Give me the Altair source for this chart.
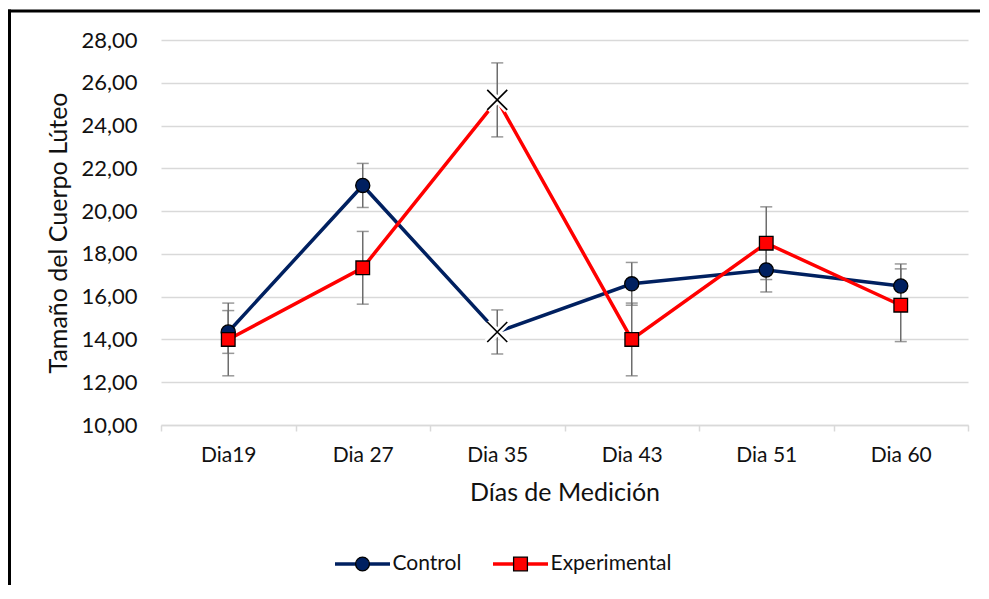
import altair as alt
import pandas as pd

dias = ["Dia19", "Dia 27", "Dia 35", "Dia 43", "Dia 51", "Dia 60"]
series = ["Control", "Experimental"]
control = [14.35, 21.2, 14.35, 16.6, 17.25, 16.5]
control_err = [1.0, 1.03, 1.03, 1.0, 1.03, 1.03]
experimental = [14.0, 17.35, 25.2, 14.0, 18.5, 15.6]
experimental_err = [1.7, 1.7, 1.73, 1.7, 1.7, 1.7]
colors = ["#002060", "#FF0000"]
y_ticks = [10, 12, 14, 16, 18, 20, 22, 24, 26, 28]

rows = []
for s, vals, errs in [("Control", control, control_err), ("Experimental", experimental, experimental_err)]:
    for d, v, e in zip(dias, vals, errs):
        rows.append({"Dia": d, "Serie": s, "Valor": v, "lo": v - e, "hi": v + e})
df = pd.DataFrame(rows)
legend_df = pd.DataFrame({"Serie": series})

FONT = "Lato"
TXT = "#111111"

X = alt.X("Dia:N", sort=dias, scale=alt.Scale(paddingInner=0, paddingOuter=0),
          axis=alt.Axis(title="Días de Medición", labelAngle=0, tickBand="extent",
                        domainColor="#d9d9d9", domainWidth=1.5, tickColor="#d9d9d9",
                        tickWidth=1.5, tickSize=6, labelPadding=13, titlePadding=15,
                        labelFontSize=21, grid=False))
Y = alt.Y("Valor:Q", scale=alt.Scale(domain=[10, 28], nice=False, zero=False),
          axis=alt.Axis(title="Tamaño del Cuerpo Lúteo", values=y_ticks,
                        labelExpr="replace(format(datum.value, '.2f'), '.', ',')",
                        domain=False, ticks=False, labelPadding=24, titlePadding=9,
                        labelFontSize=22, gridColor="#d9d9d9", gridWidth=1.3))
COLOR = alt.Color("Serie:N", scale=alt.Scale(domain=series, range=colors), legend=None)

base = alt.Chart(df)
one = "datum.Dia == 'Dia19' && datum.Serie == 'Control'"

frame_left = base.transform_filter(one).mark_rule(color="black", strokeWidth=3).encode(
    x=alt.value(-151.5), y=alt.value(-30.5), y2=alt.value(545)
)
frame_top = base.transform_filter(one).mark_rect(color="black", strokeWidth=0).encode(
    x=alt.value(-153), x2=alt.value(850), y=alt.value(-30.5), y2=alt.value(-27.5)
)

lines = base.mark_line(strokeWidth=3.5).encode(x=X, y=Y, color=COLOR)

ERR = "#6d6d6d"
err_rule = base.mark_rule(color=ERR, strokeWidth=1.5).encode(x=X, y="lo:Q", y2="hi:Q")
cap_lo = base.mark_tick(color=ERR, thickness=1.5, size=12).encode(x=X, y="lo:Q")
cap_hi = base.mark_tick(color=ERR, thickness=1.5, size=12).encode(x=X, y="hi:Q")

xpath = "M-1,-1L1,1M-1,1L1,-1"
x_white = base.transform_filter("datum.Dia == 'Dia 35'").mark_point(
    shape=xpath, filled=False, stroke="white", strokeWidth=7, size=400, opacity=1
).encode(x=X, y=Y)
x_black = base.transform_filter("datum.Dia == 'Dia 35'").mark_point(
    shape=xpath, filled=False, stroke="black", strokeWidth=1.6, size=400, opacity=1
).encode(x=X, y=Y)

circles = base.transform_filter("datum.Serie == 'Control' && datum.Dia != 'Dia 35'").mark_point(
    shape="circle", filled=True, fill=colors[0], stroke="black", strokeWidth=1.3, size=200, opacity=1
).encode(x=X, y=Y)
squares = base.transform_filter("datum.Serie == 'Experimental' && datum.Dia != 'Dia 35'").mark_point(
    shape="square", filled=True, fill=colors[1], stroke="black", strokeWidth=1.3, size=185, opacity=1
).encode(x=X, y=Y)

main = alt.layer(frame_left, frame_top, lines, err_rule, cap_lo, cap_hi, x_white, x_black,
                 circles, squares)

# legend (guide) built from the series list, with its own point scale
LX = alt.X("Serie:N", sort=series,
           scale=alt.Scale(type="point", domain=series, range=[201.5, 359.5], padding=0),
           axis=None)
LY = alt.value(524)
lbase = alt.Chart(legend_df)
leg_line = lbase.mark_tick(orient="horizontal", size=55, thickness=3.5, opacity=1).encode(
    x=LX, y=LY, color=COLOR)
leg_mark = lbase.mark_point(filled=True, stroke="black", strokeWidth=1.3, size=190, opacity=1).encode(
    x=LX, y=LY, color=COLOR,
    shape=alt.Shape("Serie:N", scale=alt.Scale(domain=series, range=["circle", "square"]), legend=None))
leg_text = lbase.mark_text(align="left", baseline="middle", dx=30, font=FONT, fontSize=21,
                           color=TXT).encode(x=LX, y=LY, text="Serie:N")
legend_group = alt.layer(leg_line, leg_mark, leg_text)

chart = alt.layer(main, legend_group).resolve_scale(x="independent").properties(
    width=807, height=385,
    autosize=alt.AutoSizeParams(type="none"),
    padding={"left": 153, "top": 32, "right": 12, "bottom": 160},
).configure_view(stroke=None).configure_axis(
    labelFont=FONT, titleFont=FONT, titleFontSize=25,
    labelColor=TXT, titleColor=TXT, titleFontWeight="normal"
)

chart.save("out.html", embed_options={"renderer": "svg", "actions": False})
